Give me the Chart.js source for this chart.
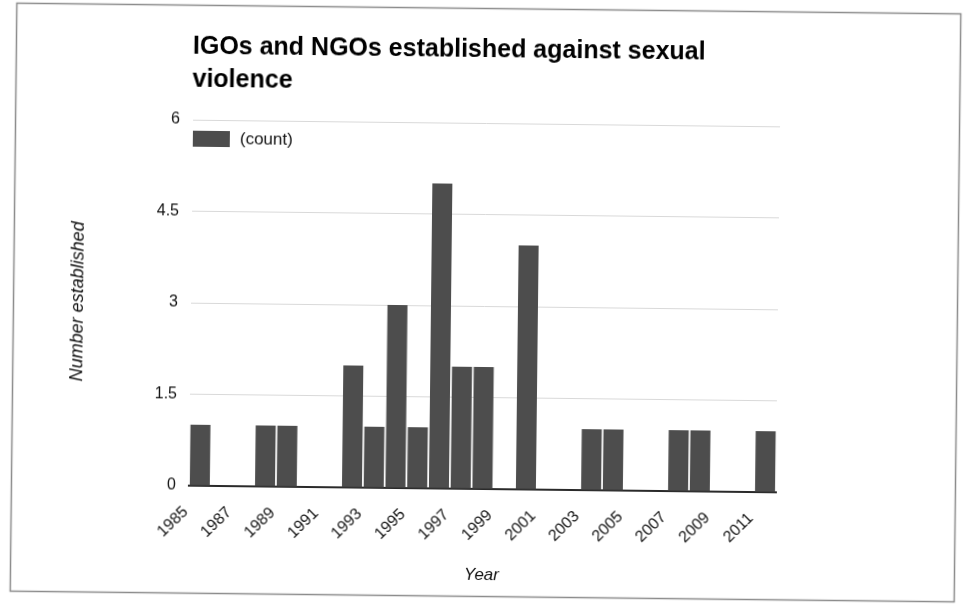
<!DOCTYPE html>
<html>
<head>
<meta charset="utf-8">
<title>IGOs and NGOs established against sexual violence</title>
<script src="https://cdn.jsdelivr.net/npm/chart.js@4.4.0/dist/chart.umd.min.js"></script>
<style>
  html, body { margin: 0; padding: 0; background: #fff; overflow: hidden; }
  #wrap { position: relative; width: 967px; height: 608px; transform: rotate(0.65deg); transform-origin: 484px 304px; }
</style>
</head>
<body>
<div id="wrap"><canvas id="chart" width="967" height="608"></canvas></div>
<script>
// Organisations founded per year
const years = ['1985', '1986', '1987', '1988', '1989', '1990', '1991', '1992', '1993',
  '1994', '1995', '1996', '1997', '1998', '1999', '2000', '2001', '2002', '2003',
  '2004', '2005', '2006', '2007', '2008', '2009', '2010', '2011'];
const counts = [1, 0, 0, 1, 1, 0, 0, 2, 1, 3, 1, 5, 2, 2, 0, 4, 0, 0, 1, 1, 0, 0, 1, 1, 0, 0, 1];
const yTicks = [0, 1.5, 3, 4.5, 6];

const titleLines = ['IGOs and NGOs established against sexual', 'violence'];
const seriesLabel = '(count)';
const yTitle = 'Number established';
const xTitle = 'Year';

const FONT = '"Liberation Sans", Arial, sans-serif';
Chart.defaults.font.family = FONT;

// frame, two-line title and the legend sitting inside the plot
const decorPlugin = {
  id: 'decor',
  beforeDraw(chart) {
    const ctx = chart.ctx;
    ctx.save();
    ctx.fillStyle = '#fff';
    ctx.fillRect(0, 0, chart.width, chart.height);
    ctx.strokeStyle = '#8c8c8c';
    ctx.lineWidth = 1.5;
    ctx.strokeRect(13.5, 8.5, 944, 588);
    ctx.restore();
  },
  afterDraw(chart) {
    const { ctx, chartArea } = chart;
    ctx.save();
    ctx.fillStyle = '#000';
    ctx.font = 'bold 25px ' + FONT;
    ctx.textBaseline = 'alphabetic';
    titleLines.forEach((line, i) => ctx.fillText(line, chartArea.left - 1, 57 + i * 33));

    const ds = chart.data.datasets[0];
    ctx.fillStyle = ds.backgroundColor;
    ctx.fillRect(chartArea.left, chartArea.top + 11, 37, 16);
    ctx.fillStyle = '#111';
    ctx.font = '17px ' + FONT;
    ctx.textBaseline = 'middle';
    ctx.fillText(ds.label, chartArea.left + 47, chartArea.top + 19);
    ctx.restore();
  }
};

new Chart(document.getElementById('chart'), {
  type: 'bar',
  data: {
    labels: years,
    datasets: [{
      label: seriesLabel,
      data: counts,
      backgroundColor: '#4d4d4d',
      categoryPercentage: 1,
      barPercentage: 0.92
    }]
  },
  options: {
    responsive: false,
    animation: false,
    layout: { padding: { left: 63, right: 189, top: 123, bottom: 19 } },
    plugins: {
      legend: { display: false },
      tooltip: { enabled: false }
    },
    scales: {
      x: {
        grid: { display: false },
        border: { display: true, color: '#2a2a2a', width: 2 },
        ticks: {
          autoSkip: false,
          minRotation: 45,
          maxRotation: 45,
          labelOffset: -14,
          padding: 9,
          color: '#111',
          font: { size: 16 },
          callback: (v, i) => (i % 2 === 0 ? years[i] : '')
        },
        title: {
          display: true,
          text: xTitle,
          color: '#111',
          font: { size: 17, style: 'italic' },
          padding: { top: 0, bottom: 4 }
        },
        afterFit: s => { s.height = 100; }
      },
      y: {
        min: 0,
        max: 6,
        afterBuildTicks: s => { s.ticks = yTicks.map(v => ({ value: v })); },
        grid: { color: '#d9d9d9', drawTicks: false },
        border: { display: false },
        ticks: { padding: 13, color: '#111', font: { size: 16 } },
        title: {
          display: true,
          text: yTitle,
          color: '#111',
          font: { size: 18, style: 'italic' },
          padding: { top: 4, bottom: 0 }
        },
        afterFit: s => { s.width = 128; }
      }
    }
  },
  plugins: [decorPlugin]
});
</script>
</body>
</html>
